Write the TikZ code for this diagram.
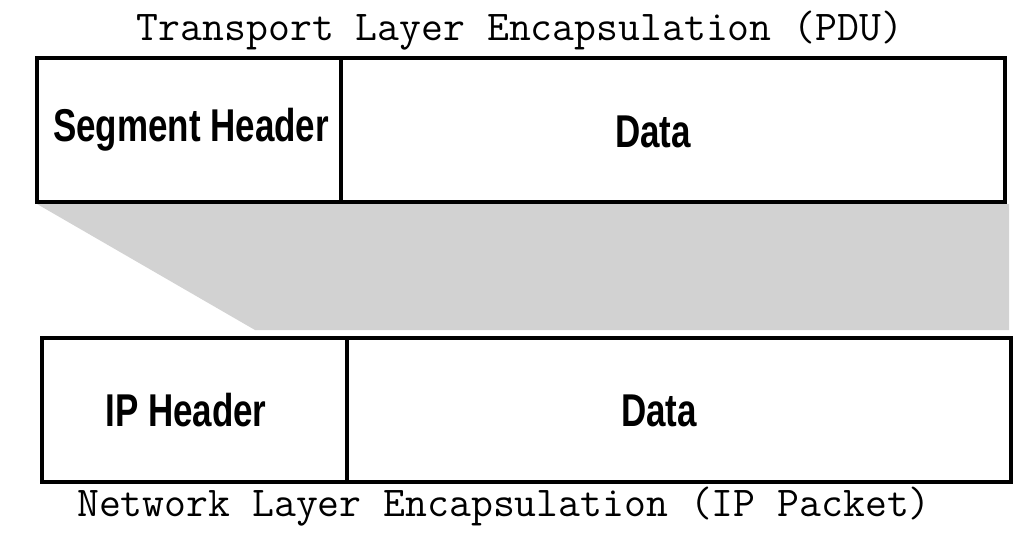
\documentclass[tikz,border=0pt]{standalone}
\usepackage{graphicx}
\usepackage{xcolor}
\usepackage{fontspec}
\usepackage{tikz}
\newfontfamily\boxfont{Liberation Sans}
\newcommand{\narrow}[1]{\scalebox{0.76}[1]{#1}}
\definecolor{funnelgray}{RGB}{210,210,210}
\tikzset{
    caption/.style={anchor=base, inner sep=0pt, font=\ttfamily\fontsize{42.5}{42.5}\selectfont},
    boxtext/.style={inner sep=0pt, font=\boxfont\bfseries\fontsize{46}{46}\selectfont}
}

\begin{document}
\begin{tikzpicture}[x=1pt,y=-1pt]
        \useasboundingbox (0,0) rectangle (1024,536);

        % The grey funnel
        \fill[funnelgray] (37,204) -- (1009,204) -- (1009,330) -- (255,330) -- cycle;

        % The top boxes
        \draw[line width=3.5pt] (37,58) rectangle (1005,202);
        \draw[line width=3.5pt] (341,58) -- (341,202);

        % The bottom boxes
        \draw[line width=3.5pt] (42,338) rectangle (1011,482);
        \draw[line width=3.5pt] (347,338) -- (347,482);

        % The words in the boxes
        \node[boxtext] (seghdr) at (191,130) {\narrow{Segment Header}};
        \node[boxtext] (segdata) at (653,132) {\narrow{Data}};
        \node[boxtext] (iphdr) at (186,410) {\narrow{IP Header}};
        \node[boxtext] (ipdata) at (659,411) {\narrow{Data}};

        % The captions
        \node[caption] (pdu) at (520,40) {Transport Layer Encapsulation (PDU)};
        \node[caption] (packet) at (504,516) {Network Layer Encapsulation (IP Packet)};

    \end{tikzpicture}
\end{document}
